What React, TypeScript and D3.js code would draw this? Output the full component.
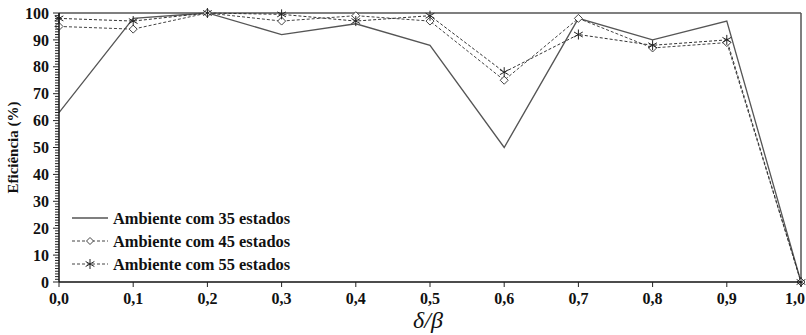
import React from "react";
import * as d3 from "d3";

const xValues = [0.0, 0.1, 0.2, 0.3, 0.4, 0.5, 0.6, 0.7, 0.8, 0.9, 1.0];
const xTickLabels = ["0,0", "0,1", "0,2", "0,3", "0,4", "0,5", "0,6", "0,7", "0,8", "0,9", "1,0"];
const yTickValues = [0, 10, 20, 30, 40, 50, 60, 70, 80, 90, 100];
const s35 = [63, 98, 100, 92, 96, 88, 50, 98, 90, 97, 0];
const s45 = [95, 94, 100, 97, 99, 97, 75, 98, 87, 89, 0];
const s55 = [98, 97, 100, 99.5, 97, 99, 78, 92, 88, 90, 0];
const seriesNames = ["Ambiente com 35 estados", "Ambiente com 45 estados", "Ambiente com 55 estados"];

const W = 806;
const H = 335;
const FONT = "'Liberation Serif', 'Times New Roman', serif";

function Diamond({ x, y, r = 4 }: { x: number; y: number; r?: number }) {
  return (
    <path
      d={`M${x},${y - r}L${x + r},${y}L${x},${y + r}L${x - r},${y}Z`}
      fill="white"
      stroke="#444"
      strokeWidth={1}
    />
  );
}

function Star({ x, y, r = 5 }: { x: number; y: number; r?: number }) {
  const d = r * 0.87;
  return (
    <g stroke="#222" strokeWidth={1}>
      <line x1={x} y1={y - r} x2={x} y2={y + r} />
      <line x1={x - d} y1={y - r / 2} x2={x + d} y2={y + r / 2} />
      <line x1={x - d} y1={y + r / 2} x2={x + d} y2={y - r / 2} />
    </g>
  );
}

export default function App() {
  const x = d3.scaleLinear().domain([0, 1]).range([59, 801]);
  const y = d3.scaleLinear().domain([0, 100]).range([282, 13]);
  const line = d3
    .line<number>()
    .x((_, i) => x(xValues[i]))
    .y((v) => y(v));
  const minor = d3.range(0, 101, 1);

  return (
    <svg width={W} height={H} style={{ position: "absolute", left: 0, top: 0, background: "white" }}>
      <rect x={0} y={0} width={W} height={H} fill="white" />
      {/* frame */}
      <line x1={x(0)} y1={y(100)} x2={x(1)} y2={y(100)} stroke="#555" strokeWidth={1.5} />
      <line x1={x(1)} y1={y(100)} x2={x(1)} y2={y(0)} stroke="#555" strokeWidth={1.5} />

      {/* series */}
      <path d={line(s35) || ""} fill="none" stroke="#555" strokeWidth={1.3} />
      <path d={line(s45) || ""} fill="none" stroke="#444" strokeWidth={1} strokeDasharray="3,2" />
      <path d={line(s55) || ""} fill="none" stroke="#333" strokeWidth={1} strokeDasharray="3,2" />
      {s45.map((v, i) => (
        <Diamond key={"d" + i} x={x(xValues[i])} y={y(v)} />
      ))}
      {s55.map((v, i) => (
        <Star key={"s" + i} x={x(xValues[i])} y={y(v)} />
      ))}

      {/* axes */}
      <line x1={x(0)} y1={y(0)} x2={x(1)} y2={y(0)} stroke="#111" strokeWidth={1.5} />
      <line x1={x(0)} y1={y(0)} x2={x(0)} y2={y(100)} stroke="#111" strokeWidth={1.5} />
      {minor.map((v) => (
        <line
          key={"m" + v}
          x1={x(0) - (v % 10 === 0 ? 6 : 4)}
          x2={x(0)}
          y1={y(v)}
          y2={y(v)}
          stroke="#222"
          strokeWidth={1}
        />
      ))}
      {yTickValues.map((v) => (
        <text
          key={"yt" + v}
          x={49}
          y={y(v)}
          dy="0.35em"
          textAnchor="end"
          fontFamily={FONT}
          fontWeight="bold"
          fontSize={16}
          fill="#111"
        >
          {v}
        </text>
      ))}
      {xValues.map((v, i) => {
        const last = i === xValues.length - 1;
        return (
          <g key={"xt" + i}>
            <line x1={x(v)} x2={x(v)} y1={y(0)} y2={y(0) + 5} stroke="#222" strokeWidth={1} />
            <text
              x={last ? W - 1 : x(v)}
              y={y(0) + 22}
              textAnchor={last ? "end" : "middle"}
              fontFamily={FONT}
              fontWeight="bold"
              fontSize={16}
              fill="#111"
            >
              {xTickLabels[i]}
            </text>
          </g>
        );
      })}

      {/* axis titles */}
      <text
        transform={`translate(18,${(y(0) + y(100)) / 2}) rotate(-90)`}
        textAnchor="middle"
        fontFamily={FONT}
        fontWeight="bold"
        fontSize={15}
        fill="#111"
      >
        Eficiência (%)
      </text>
      <text
        x={(x(0) + x(1)) / 2 - 2}
        y={328}
        textAnchor="middle"
        fontFamily={FONT}
        fontStyle="italic"
        fontSize={24}
        fill="#111"
      >
        δ/β
      </text>

      {/* legend */}
      {seriesNames.map((name, i) => {
        const ly = 218 + i * 23;
        return (
          <g key={"lg" + i}>
            <line
              x1={72}
              x2={108}
              y1={ly}
              y2={ly}
              stroke={i === 0 ? "#555" : "#444"}
              strokeWidth={i === 0 ? 1.3 : 1}
              strokeDasharray={i === 0 ? undefined : "3,2"}
            />
            {i === 1 && <Diamond x={90} y={ly} r={3.5} />}
            {i === 2 && <Star x={90} y={ly} r={5} />}
            <text
              x={113}
              y={ly}
              dy="0.35em"
              fontFamily={FONT}
              fontWeight="bold"
              fontSize={16.4}
              fill="#111"
            >
              {name}
            </text>
          </g>
        );
      })}
    </svg>
  );
}
